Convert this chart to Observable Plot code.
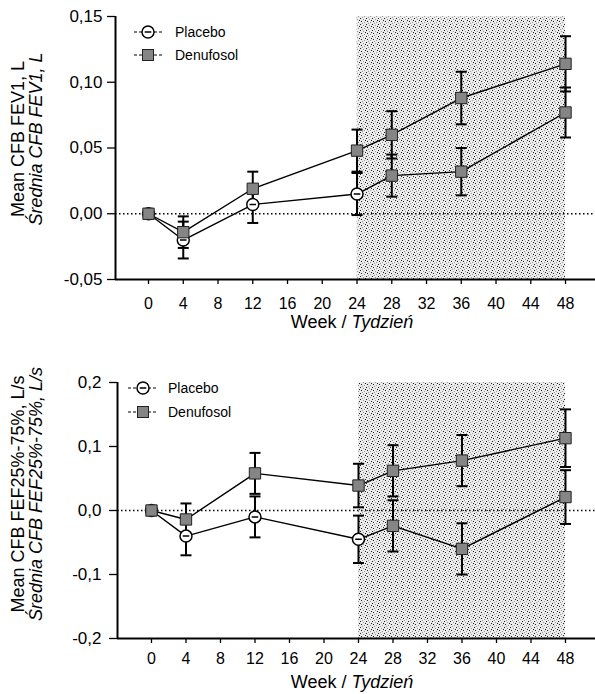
<!DOCTYPE html>
<html>
<head>
<meta charset="utf-8">
<script src="https://cdn.jsdelivr.net/npm/d3@7"></script>
<script src="https://cdn.jsdelivr.net/npm/@observablehq/plot@0.6"></script>
<style>
  html, body { margin: 0; padding: 0; background: white; }
  #chart { width: 595px; }
</style>
</head>
<body>
<div id="chart"></div>
<script>
// ---- data ----
const weeks = [0, 4, 12, 24, 28, 36, 48];
const weekTicks = [0, 4, 8, 12, 16, 20, 24, 28, 32, 36, 40, 44, 48];
const treatmentWindow = [[24, 48]];
const seriesNames = ["Placebo", "Denufosol"];

const fev1Placebo      = [0, -0.020, 0.007, 0.015, 0.029, 0.032, 0.077];
const fev1PlaceboErr   = [0,  0.014, 0.014, 0.016, 0.016, 0.018, 0.019];
const fev1Denufosol    = [0, -0.014, 0.019, 0.048, 0.060, 0.088, 0.114];
const fev1DenufosolErr = [0,  0.012, 0.013, 0.016, 0.018, 0.020, 0.021];
const fev1Ticks = [-0.05, 0, 0.05, 0.10, 0.15];

const fefPlacebo      = [0, -0.040, -0.010, -0.045, -0.024, -0.060, 0.021];
const fefPlaceboErr   = [0,  0.030,  0.032,  0.037,  0.040,  0.040, 0.042];
const fefDenufosol    = [0, -0.014,  0.058,  0.039,  0.062,  0.078, 0.113];
const fefDenufosolErr = [0,  0.025,  0.032,  0.034,  0.040,  0.040, 0.045];
const fefTicks = [-0.2, -0.1, 0, 0.1, 0.2];

const xLabel = ["Week / ", "Tydzień"];
const fev1Label = ["Mean CFB FEV1, L", "Średnia CFB FEV1, L"];
const fefLabel = ["Mean CFB FEF25%-75%, L/s", "Średnia CFB FEF25%-75%, L/s"];

// ---- symbols ----
const circleSym = {draw(ctx, size) {
  const r = Math.sqrt(size / Math.PI);
  ctx.moveTo(r, 0); ctx.arc(0, 0, r, 0, 2 * Math.PI); ctx.closePath();
  ctx.moveTo(-r * 0.55, 0); ctx.lineTo(r * 0.55, 0);
}};
const capSym = {draw(ctx, size) { ctx.moveTo(-5.5, 0); ctx.lineTo(5.5, 0); }};

function panel(cfg) {
  const rows = [];
  weeks.forEach((w, i) => rows.push({week: w, value: cfg.placebo[i], err: cfg.placeboErr[i], group: seriesNames[0]}));
  weeks.forEach((w, i) => rows.push({week: w, value: cfg.denufosol[i], err: cfg.denufosolErr[i], group: seriesNames[1]}));
  const errRows = rows.filter(d => d.err > 0);
  const caps = errRows.flatMap(d => [{week: d.week, v: d.value - d.err}, {week: d.week, v: d.value + d.err}]);
  const circles = rows.filter(d => d.group === "Placebo" && d.week <= 24);
  const squares = rows.filter(d => !(d.group === "Placebo" && d.week <= 24));
  const fmt = v => v.toFixed(cfg.decimals).replace(".", ",");

  const plot = Plot.plot({
    width: 595, height: cfg.height,
    marginTop: cfg.marginTop, marginBottom: cfg.marginBottom,
    marginLeft: cfg.marginLeft, marginRight: 0,
    style: {fontFamily: "'Liberation Sans', Arial, sans-serif", background: "white", color: "black"},
    x: {domain: cfg.xDomain},
    y: {domain: [cfg.yTicks[0], cfg.yTicks[cfg.yTicks.length - 1]]},
    marks: [
      Plot.rect(treatmentWindow, {x1: d => d[0], x2: d => d[1], fill: `url(#${cfg.id}-stip)`}),
      Plot.ruleY([0], {stroke: "black", strokeWidth: 1.5, strokeDasharray: "1.5,2.5"}),
      Plot.line(rows, {x: "week", y: "value", z: "group", stroke: "black", strokeWidth: 1.4}),
      Plot.ruleX(errRows, {x: "week", y1: d => d.value - d.err, y2: d => d.value + d.err, stroke: "black", strokeWidth: 2}),
      Plot.dot(caps, {x: "week", y: "v", symbol: capSym, r: 5, fill: "none", stroke: "black", strokeWidth: 2}),
      Plot.dot(circles, {x: "week", y: "value", symbol: circleSym, r: 6, fill: "white", stroke: "black", strokeWidth: 1.5}),
      Plot.dot(squares, {x: "week", y: "value", symbol: "square", r: 6.4, fill: "#858585", stroke: "#222", strokeWidth: 1}),
      Plot.ruleX([cfg.xDomain[0]], {stroke: "black", strokeWidth: 2}),
      Plot.ruleY([cfg.yTicks[0]], {stroke: "black", strokeWidth: 2}),
      Plot.axisY({ticks: cfg.yTicks, tickFormat: fmt, tickSize: 8, tickPadding: cfg.yPad, fontSize: 17, label: null, strokeWidth: 1.3}),
      Plot.axisX({ticks: weekTicks, tickFormat: d => d, tickSize: 5, tickPadding: cfg.xPad, fontSize: 16, label: null, strokeWidth: 1.3})
    ]
  });

  const svg = d3.select(plot);
  // stipple pattern
  const defs = svg.insert("defs", ":first-child");
  const pat = defs.append("pattern").attr("id", `${cfg.id}-stip`).attr("patternUnits", "userSpaceOnUse")
    .attr("width", 6).attr("height", 6);
  pat.append("rect").attr("width", 6).attr("height", 6).attr("fill", "#ebebeb");
  [[0,0],[3,1],[1,3],[4,4],[5,2],[2,5]].forEach(([x, y], i) =>
    pat.append("rect").attr("x", x).attr("y", y).attr("width", 1).attr("height", 1).attr("fill", i % 2 ? "#999" : "#222"));

  // y-axis label lines
  cfg.yLabel.forEach((t, i) => {
    svg.append("text")
      .attr("transform", `translate(${cfg.labelX[i]},${cfg.labelY}) rotate(-90)`)
      .attr("text-anchor", "middle").attr("font-size", 18)
      .attr("font-style", i === 1 ? "italic" : "normal")
      .attr("fill", "black").text(t);
  });
  // x-axis title
  const tt = svg.append("text").attr("x", cfg.titleX).attr("y", cfg.titleY)
    .attr("text-anchor", "middle").attr("font-size", 18).attr("fill", "black");
  tt.append("tspan").text(xLabel[0]);
  tt.append("tspan").attr("font-style", "italic").text(xLabel[1]);

  // legend
  seriesNames.forEach((name, i) => {
    const y = cfg.legY[i];
    const g = svg.append("g");
    g.append("line").attr("x1", cfg.legX[0]).attr("x2", cfg.legX[2]).attr("y1", y).attr("y2", y)
      .attr("stroke", "black").attr("stroke-width", 1.2).attr("stroke-dasharray", "3,2");
    if (i === 0) {
      const p = d3.path(); circleSym.draw(p, Math.PI * 36);
      g.append("path").attr("d", p.toString()).attr("transform", `translate(${cfg.legX[1]},${y})`)
        .attr("fill", "white").attr("stroke", "black").attr("stroke-width", 1.5);
    } else {
      g.append("rect").attr("x", cfg.legX[1] - 5.5).attr("y", y - 5.5).attr("width", 11).attr("height", 11)
        .attr("fill", "#858585").attr("stroke", "#222");
    }
    g.append("text").attr("x", cfg.legX[3]).attr("y", y + 5).attr("text-anchor", "start")
      .attr("font-size", 14).attr("fill", "black").text(name);
  });
  return plot;
}

const chart = document.getElementById("chart");
chart.appendChild(panel({
  id: "fev", placebo: fev1Placebo, placeboErr: fev1PlaceboErr, denufosol: fev1Denufosol, denufosolErr: fev1DenufosolErr,
  yTicks: fev1Ticks, decimals: 2, height: 345, marginTop: 16, marginBottom: 66, marginLeft: 115,
  xDomain: [-3.8, 51.45], yPad: 5, xPad: 13,
  yLabel: fev1Label, labelX: [24, 42], labelY: 139, titleX: 352, titleY: 328,
  legY: [32, 55], legX: [134, 148, 162, 175]
}));
chart.appendChild(panel({
  id: "fef", placebo: fefPlacebo, placeboErr: fefPlaceboErr, denufosol: fefDenufosol, denufosolErr: fefDenufosolErr,
  yTicks: fefTicks, decimals: 1, height: 349, marginTop: 37, marginBottom: 56, marginLeft: 117,
  xDomain: [-3.94, 51.48], yPad: 8, xPad: 9,
  yLabel: fefLabel, labelX: [24, 42], labelY: 149, titleX: 352, titleY: 343,
  legY: [43, 67], legX: [128, 143, 158, 168]
}));
</script>
</body>
</html>
